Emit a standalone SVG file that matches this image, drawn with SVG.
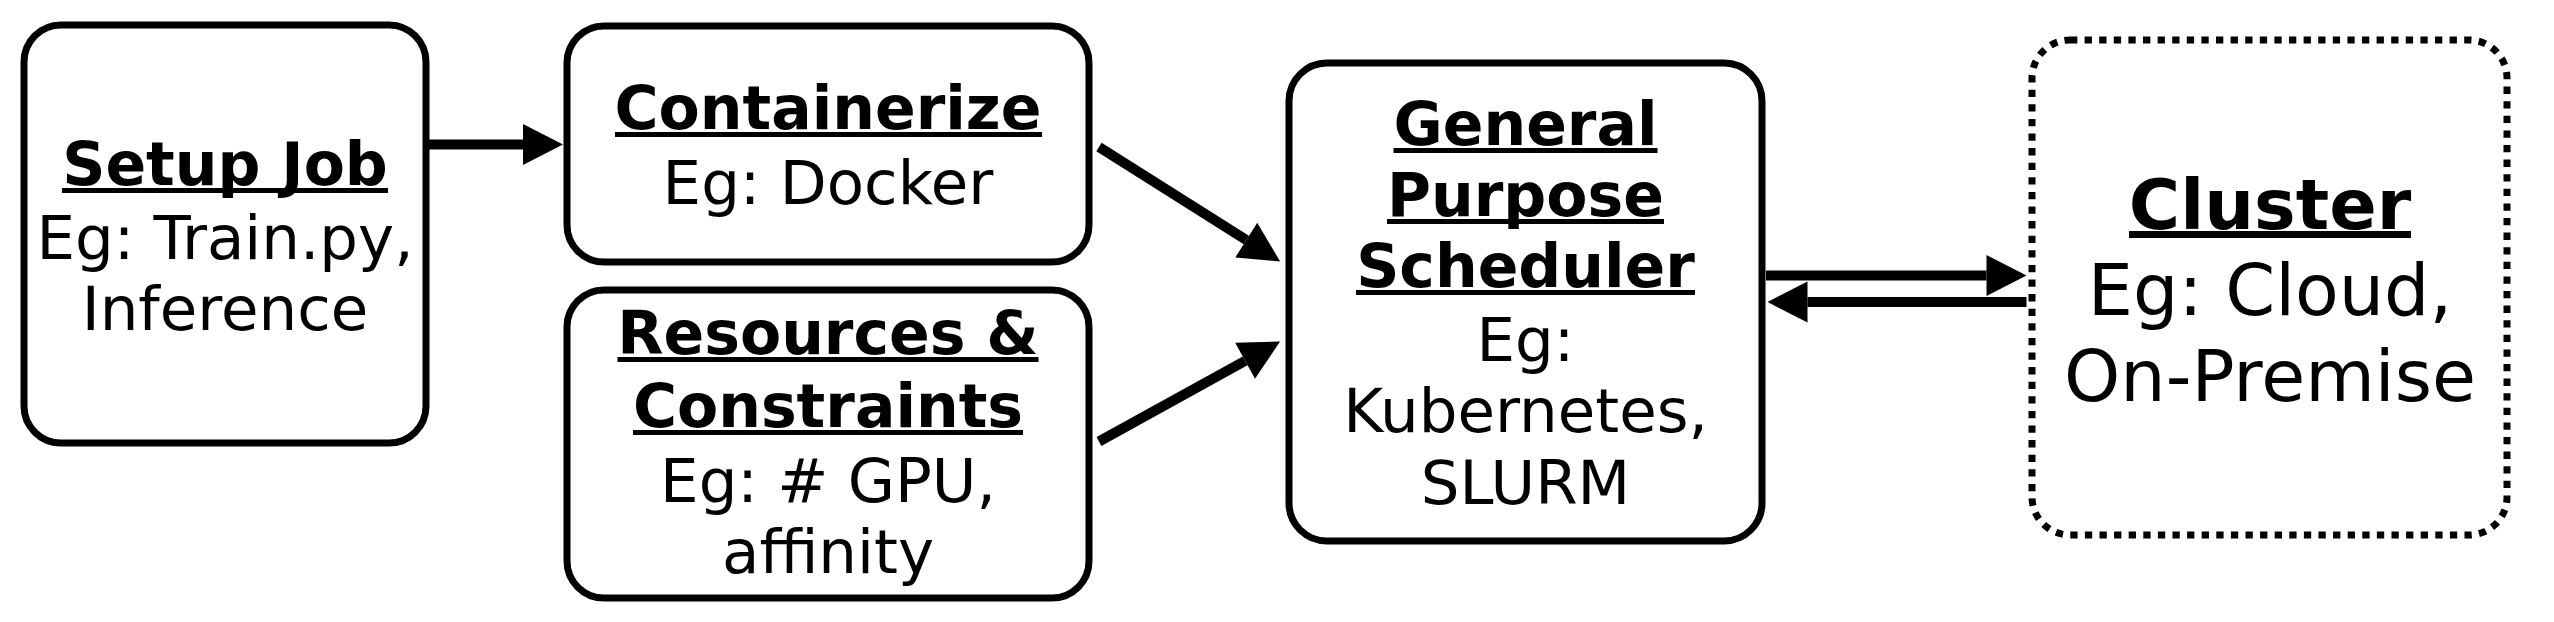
<svg xmlns="http://www.w3.org/2000/svg" width="2554" height="622" viewBox="0 0 2554 622">
  <style>
    .box { fill: #ffffff; stroke: #000000; stroke-width: 7; }
    .dotted { fill: #ffffff; stroke: #000000; stroke-width: 7; stroke-dasharray: 7.3 7.3; }
    .t { font-family: "DejaVu Sans", Verdana, sans-serif; font-size: 61px; fill: #000000; text-anchor: middle; }
    .b { font-size: 60px; font-weight: bold; }
    .big { font-size: 71.5px; }
    .bigb { font-size: 70px; font-weight: bold; }
    .ul { fill: #000000; }
    .conn { stroke: #000000; stroke-width: 10; fill: none; marker-end: url(#head); }
  </style>
  <defs>
    <marker id="head" markerUnits="userSpaceOnUse" markerWidth="41" markerHeight="41" refX="0" refY="20.5" orient="auto" overflow="visible">
      <path d="M0,0 L40,20.5 L0,41 Z" fill="#000000"/>
    </marker>
  </defs>

  <g id="setup-job">
    <rect class="box" x="24" y="25" width="402" height="418" rx="37"/>
    <text class="t b" x="225" y="185">Setup Job</text>
    <rect class="ul" x="62" y="188" width="326" height="5"/>
    <text class="t" x="225" y="259">Eg: Train.py,</text>
    <text class="t" x="225" y="330">Inference</text>
  </g>

  <g id="containerize">
    <rect class="box" x="567" y="26" width="522" height="236" rx="37"/>
    <text class="t b" x="828" y="129">Containerize</text>
    <rect class="ul" x="615" y="132" width="427" height="5"/>
    <text class="t" x="828" y="204">Eg: Docker</text>
  </g>

  <g id="resources">
    <rect class="box" x="567" y="290" width="522" height="308" rx="37"/>
    <text class="t b" x="828" y="354">Resources &amp;</text>
    <rect class="ul" x="617.5" y="357" width="421" height="5"/>
    <text class="t b" x="828" y="427">Constraints</text>
    <rect class="ul" x="633" y="430" width="390" height="5"/>
    <text class="t" x="828" y="502">Eg: # GPU,</text>
    <text class="t" x="828" y="573">affinity</text>
  </g>

  <g id="scheduler">
    <rect class="box" x="1289" y="63" width="473" height="478" rx="38"/>
    <text class="t b" x="1525.5" y="145">General</text>
    <rect class="ul" x="1393.5" y="148" width="264" height="5"/>
    <text class="t b" x="1525.5" y="216">Purpose</text>
    <rect class="ul" x="1387" y="219" width="277" height="5"/>
    <text class="t b" x="1525.5" y="287">Scheduler</text>
    <rect class="ul" x="1356" y="290" width="339" height="5"/>
    <text class="t" x="1525.5" y="361">Eg:</text>
    <text class="t" x="1525.5" y="432">Kubernetes,</text>
    <text class="t" x="1525.5" y="504">SLURM</text>
  </g>

  <g id="cluster">
    <rect class="dotted" x="2032" y="40" width="475" height="495" rx="38"/>
    <text class="t bigb" x="2270" y="229">Cluster</text>
    <rect class="ul" x="2129" y="231" width="282" height="7"/>
    <text class="t big" x="2270" y="315">Eg: Cloud,</text>
    <text class="t big" x="2270" y="401">On-Premise</text>
  </g>

  <g id="connectors">
    <line class="conn" x1="426" y1="144.4" x2="523" y2="144.4"/>
    <line class="conn" x1="1099" y1="147" x2="1246.3" y2="240.1"/>
    <line class="conn" x1="1099" y1="441.5" x2="1245.1" y2="360.8"/>
    <line class="conn" x1="1766" y1="275.5" x2="1986.5" y2="275.5"/>
    <line class="conn" x1="2026.5" y1="302" x2="1807.5" y2="302"/>
  </g>
</svg>
